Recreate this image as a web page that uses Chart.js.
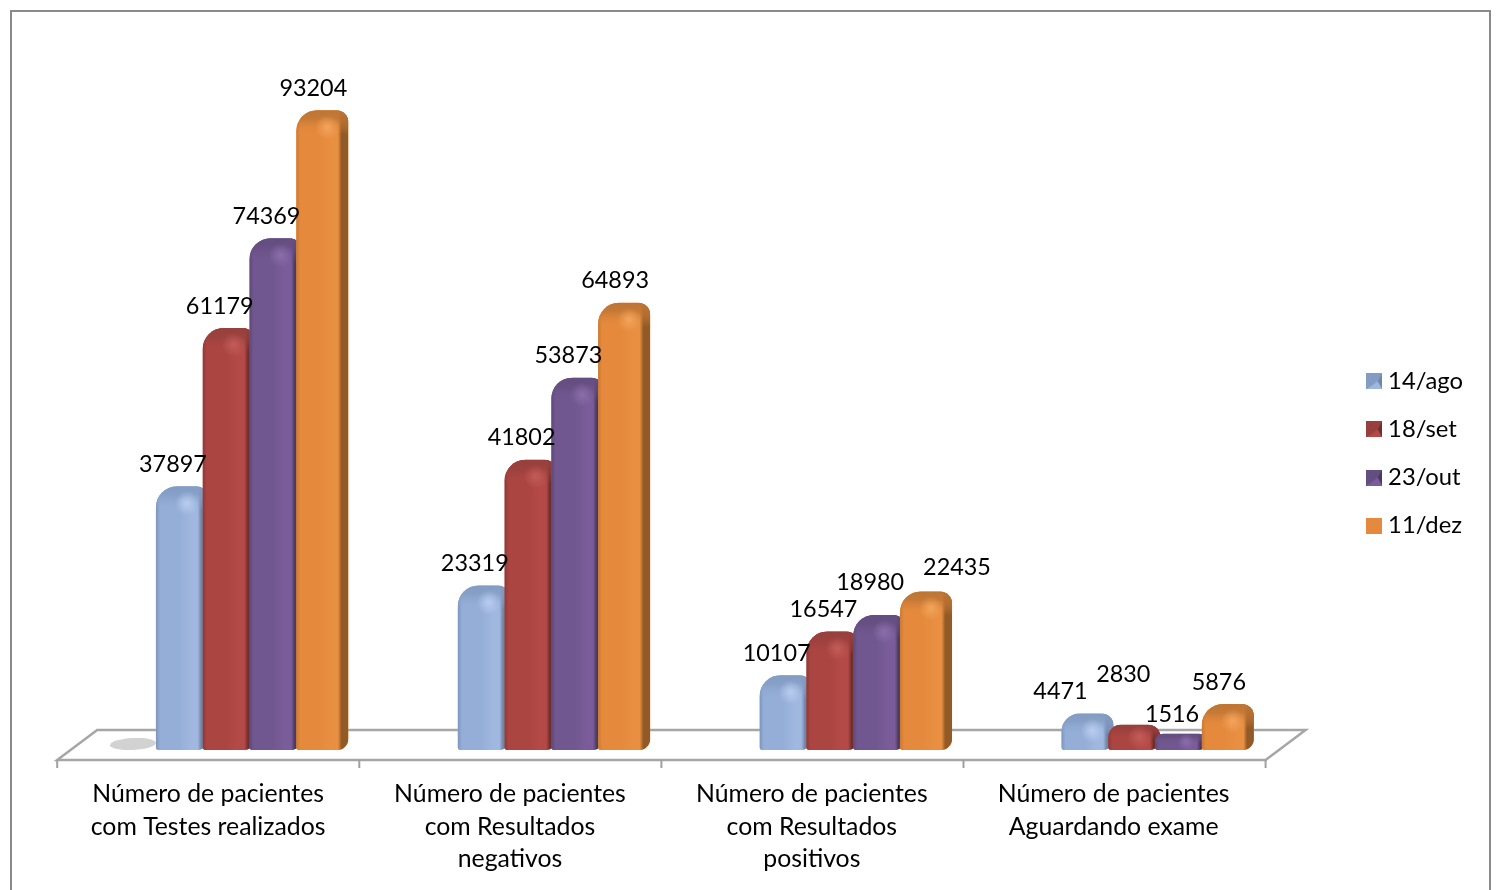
<!DOCTYPE html>
<html lang="pt">
<head>
<meta charset="utf-8">
<title>Pacientes</title>
<script src="https://cdn.jsdelivr.net/npm/chart.js@4/dist/chart.umd.min.js"></script>
<style>html,body{margin:0;padding:0;background:#fff;overflow:hidden}canvas{display:block}</style>
</head>
<body>
<canvas id="c" width="1501" height="890"></canvas>
<script>
const categories = [
  ["Número de pacientes", "com Testes realizados"],
  ["Número de pacientes", "com Resultados", "negativos"],
  ["Número de pacientes", "com Resultados", "positivos"],
  ["Número de pacientes", "Aguardando exame"]
];
const seriesNames = ["14/ago", "18/set", "23/out", "11/dez"];
const ago14 = [37897, 23319, 10107, 4471];
const set18 = [61179, 41802, 16547, 2830];
const out23 = [74369, 53873, 18980, 1516];
const dez11 = [93204, 64893, 22435, 5876];

const FONT = 'Lato, Carlito, Calibri, sans-serif';
const NUM_SIZE = 23.4, CAT_SIZE = 24.8, LEG_SIZE = 23.8;
const palette = [
  {main:'#95aed8', light:'#a0b8e0', dark:'#6f86a9', edge:'#7d95bb', top:'#839cc3', glow:'#b9cdee'},
  {main:'#ab4542', light:'#b44a47', dark:'#6e2e2c', edge:'#8c3a38', top:'#97403d', glow:'#c25c59'},
  {main:'#71578f', light:'#7a5c9a', dark:'#4b3a60', edge:'#5d4876', top:'#644d80', glow:'#8a6eaa'},
  {main:'#e58a3c', light:'#e88f41', dark:'#925a27', edge:'#c87a34', top:'#bd7534', glow:'#f3a45c'}
];
const BASE_VALUE = -882;
const DEPTH_X = 41, FLOOR_FRONT = 760, FLOOR_BACK = 730;
// label nudges relative to the default spot above a bar, keyed series:category
const nudges = {'0:3':[-18,0],'1:3':[-2,-28],'2:3':[0,3],'2:2':[0,-10],'3:2':[40,-2]};

function pyramid(p, flat) {
  const s = 16, cv = document.createElement('canvas');
  cv.width = s; cv.height = s;
  const g = cv.getContext('2d');
  g.fillStyle = p.main; g.fillRect(0,0,s,s);
  if (!flat) {
    const tri = (a,b,col)=>{g.fillStyle=col;g.beginPath();g.moveTo(a[0],a[1]);g.lineTo(b[0],b[1]);g.lineTo(s*0.72,s/2);g.closePath();g.fill();};
    tri([0,0],[s,0],p.top);
    tri([s,0],[s,s],p.dark);
    tri([s,s],[0,s],p.light);
    tri([0,s],[0,0],p.top);
  }
  return cv;
}
const legendIcons = palette.map((p,i)=>pyramid(p,i===3));
const CORNERS = {tl:21, tr:12, br:11, bl:3};
const radii = h => ({tl:Math.min(CORNERS.tl,h/2), tr:Math.min(CORNERS.tr,h/2), br:Math.min(CORNERS.br,h/2), bl:Math.min(CORNERS.bl,h/2)});

function shade(ctx, el, p) {
  const {x,y,base,width:w} = el.getProps(['x','y','base','width'], true);
  const x0 = x-w/2, x1 = x+w/2, h = base-y, r = radii(h);
  ctx.save();
  ctx.beginPath();
  ctx.roundRect(x0,y,w,h,[r.tl,r.tr,r.br,r.bl]);
  ctx.clip();
  const g = ctx.createLinearGradient(x0,0,x1,0);
  g.addColorStop(0,p.edge); g.addColorStop(0.08,p.main); g.addColorStop(0.45,p.main);
  g.addColorStop(0.68,p.light); g.addColorStop(0.80,p.light); g.addColorStop(0.87,p.dark); g.addColorStop(1,p.dark);
  ctx.fillStyle = g; ctx.fillRect(x0,y,w,h);
  const tb = Math.min(24,h*0.6);
  const v = ctx.createLinearGradient(0,y,0,y+tb);
  v.addColorStop(0,p.top); v.addColorStop(0.35,p.top+'cc'); v.addColorStop(1,p.main+'00');
  ctx.fillStyle = v; ctx.fillRect(x0,y,w,tb);
  const cx = x+5, cy = y+Math.min(17,h*0.5), rad = Math.min(12,h*0.5);
  const hl = ctx.createRadialGradient(cx,cy,0,cx,cy,rad);
  hl.addColorStop(0,p.glow); hl.addColorStop(1,p.glow+'00');
  ctx.fillStyle = hl; ctx.fillRect(x0,y,w,h);
  ctx.restore();
}

const scene = {
  id:'scene',
  beforeDraw(chart){
    const {ctx, scales:{x,y}} = chart;
    ctx.save();
    ctx.strokeStyle='#8a8a8a'; ctx.lineWidth=2;
    ctx.strokeRect(11,11,1479,890);
    const bl = x.left-4, br = x.right-3;
    const fl = bl-DEPTH_X+1, fr = br-DEPTH_X+1;
    ctx.strokeStyle='#a6a6a6'; ctx.lineWidth=2.5; ctx.lineJoin='miter';
    ctx.beginPath();
    ctx.moveTo(fl,FLOOR_FRONT); ctx.lineTo(bl,FLOOR_BACK); ctx.lineTo(br,FLOOR_BACK); ctx.lineTo(fr,FLOOR_FRONT); ctx.closePath();
    ctx.stroke();
    ctx.lineWidth=2; ctx.strokeStyle='#a0a0a0';
    const step=(fr-fl)/categories.length;
    for(let i=0;i<=categories.length;i++){
      ctx.beginPath(); ctx.moveTo(fl+i*step,FLOOR_FRONT); ctx.lineTo(fl+i*step,FLOOR_FRONT+8); ctx.stroke();
    }
    const first = chart.getDatasetMeta(0).data[0];
    if(first){
      ctx.fillStyle='#d2d2d2';
      ctx.beginPath();
      ctx.ellipse(first.x-49,y.bottom-6,23,6,-0.05,0,Math.PI*2);
      ctx.fill();
    }
    ctx.restore();
  },
  beforeDatasetsDraw(chart){
    const ctx = chart.ctx;
    chart.data.datasets.forEach((d,i)=>{
      const meta = chart.getDatasetMeta(i);
      meta.controller.draw();
      meta.data.forEach(el=>shade(ctx,el,palette[i]));
    });
    return false;
  },
  afterDraw(chart){
    const ctx = chart.ctx;
    ctx.save();
    ctx.font = NUM_SIZE+'px '+FONT;
    ctx.fillStyle='#000'; ctx.textAlign='center'; ctx.textBaseline='middle';
    chart.data.datasets.forEach((d,i)=>{
      chart.getDatasetMeta(i).data.forEach((el,j)=>{
        const n = nudges[i+':'+j]||[0,0];
        ctx.fillText(String(d.data[j]), el.x-9+n[0], el.y-22+n[1]);
      });
    });
    ctx.restore();
  }
};

const allSeries = [ago14,set18,out23,dez11];
new Chart(document.getElementById('c'),{
  type:'bar',
  data:{
    labels:categories,
    datasets:allSeries.map((vals,i)=>({
      label:seriesNames[i],
      data:vals,
      base:BASE_VALUE,
      backgroundColor:palette[i].main,
      borderWidth:0,
      borderRadius:{topLeft:CORNERS.tl,topRight:CORNERS.tr,bottomRight:CORNERS.br,bottomLeft:CORNERS.bl},
      borderSkipped:false,
      categoryPercentage:0.62,
      barPercentage:1.113
    }))
  },
  plugins:[scene],
  options:{
    responsive:false,
    animation:false,
    events:[],
    layout:{padding:{left:101.2,right:28,top:17,bottom:0}},
    plugins:{
      tooltip:{enabled:false},
      title:{display:false},
      legend:{
        position:'right',
        labels:{
          usePointStyle:true,
          pointStyleWidth:4,
          boxHeight:16,
          padding:24.3,
          color:'#000',
          font:{family:FONT,size:LEG_SIZE},
          generateLabels:chart=>chart.data.datasets.map((d,i)=>({
            text:d.label, fillStyle:palette[i].main, strokeStyle:palette[i].main, lineWidth:0,
            pointStyle:legendIcons[i], datasetIndex:i, hidden:false
          }))
        }
      }
    },
    scales:{
      x:{
        grid:{display:false,drawTicks:false},
        border:{display:false},
        afterFit:s=>{s.height=140;},
        ticks:{
          autoSkip:false,maxRotation:0,minRotation:0,
          labelOffset:-44,padding:28,color:'#000',
          font:{family:FONT,size:CAT_SIZE,lineHeight:1.31}
        }
      },
      y:{
        position:'right',
        min:BASE_VALUE,max:106912,
        grid:{display:false},
        border:{display:false},
        ticks:{display:false},
        afterFit:s=>{s.width=39.3;}
      }
    }
  }
});
</script>
</body>
</html>
